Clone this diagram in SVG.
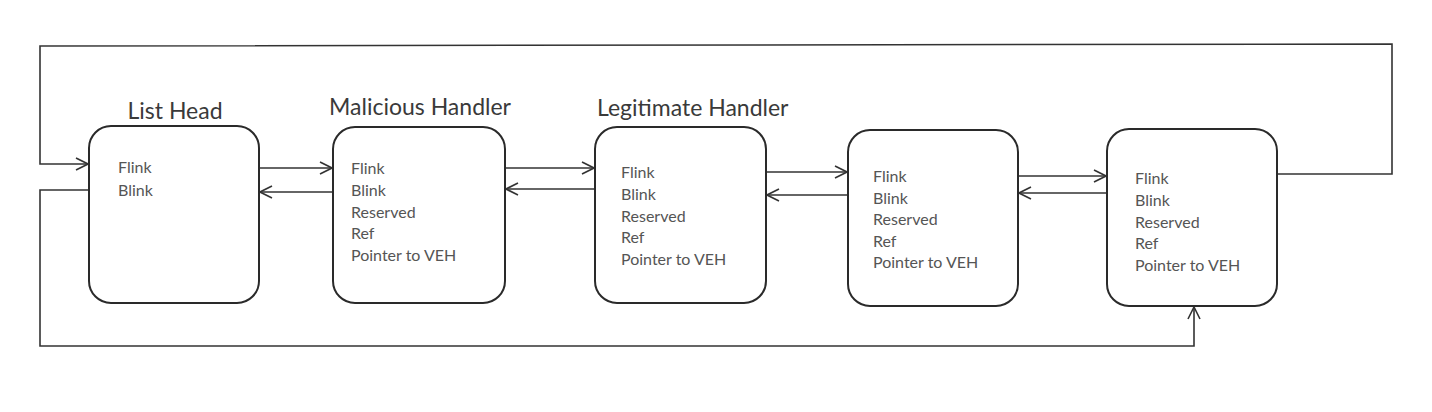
<svg xmlns="http://www.w3.org/2000/svg" width="1432" height="412" viewBox="0 0 1432 412">
<defs>
<marker id="arr" viewBox="0 0 14 14" refX="13" refY="7" markerWidth="14" markerHeight="14" markerUnits="userSpaceOnUse" orient="auto">
<path d="M1,1 L13,7 L1,13" fill="none" stroke="#333" stroke-width="1.6"/>
</marker>
<style>
.box{fill:#fff;stroke:#2a2a2a;stroke-width:2}
.title{font-family:Lato,"Noto Sans",sans-serif;font-size:23px;fill:#3a3a3a}
.field{font-family:Lato,"Noto Sans",sans-serif;font-size:16px;fill:#555}
.conn{fill:none;stroke:#333;stroke-width:1.6}
</style>
</defs>
<rect width="1432" height="412" fill="#fff"/>
<g id="connectors">
<polyline class="conn" points="1277,174 1392,174 1392,44 40,46 40,164 88,164" marker-end="url(#arr)"/>
<polyline class="conn" points="89,190 40,190 40,346 1194,346 1194,307" marker-end="url(#arr)"/>
<line class="conn" x1="259" y1="168" x2="332" y2="168" marker-end="url(#arr)"/>
<line class="conn" x1="333" y1="192" x2="260" y2="192" marker-end="url(#arr)"/>
<line class="conn" x1="505" y1="168" x2="594" y2="168" marker-end="url(#arr)"/>
<line class="conn" x1="595" y1="189" x2="506" y2="189" marker-end="url(#arr)"/>
<line class="conn" x1="766" y1="172" x2="847" y2="172" marker-end="url(#arr)"/>
<line class="conn" x1="848" y1="195" x2="767" y2="195" marker-end="url(#arr)"/>
<line class="conn" x1="1018" y1="176" x2="1106" y2="176" marker-end="url(#arr)"/>
<line class="conn" x1="1107" y1="193" x2="1019" y2="193" marker-end="url(#arr)"/>
</g>
<g id="list-head">
<text class="title" x="175" y="119" text-anchor="middle">List Head</text>
<rect class="box" x="89" y="126" width="170" height="177" rx="22"/>
<text class="field" x="118" y="173">Flink</text>
<text class="field" x="118" y="196">Blink</text>
</g>
<g id="malicious-handler">
<text class="title" x="420" y="115" text-anchor="middle">Malicious Handler</text>
<rect class="box" x="333" y="127" width="172" height="176" rx="22"/>
<text class="field" x="351" y="174">Flink</text>
<text class="field" x="351" y="196">Blink</text>
<text class="field" x="351" y="218">Reserved</text>
<text class="field" x="351" y="239">Ref</text>
<text class="field" x="351" y="261">Pointer to VEH</text>
</g>
<g id="legitimate-handler">
<text class="title" x="597" y="116">Legitimate Handler</text>
<rect class="box" x="595" y="127" width="171" height="176" rx="22"/>
<text class="field" x="621" y="178">Flink</text>
<text class="field" x="621" y="200">Blink</text>
<text class="field" x="621" y="222">Reserved</text>
<text class="field" x="621" y="243">Ref</text>
<text class="field" x="621" y="265">Pointer to VEH</text>
</g>
<g id="handler-3">
<rect class="box" x="848" y="130" width="170" height="176" rx="22"/>
<text class="field" x="873" y="182">Flink</text>
<text class="field" x="873" y="204">Blink</text>
<text class="field" x="873" y="225">Reserved</text>
<text class="field" x="873" y="247">Ref</text>
<text class="field" x="873" y="268">Pointer to VEH</text>
</g>
<g id="handler-4">
<rect class="box" x="1107" y="129" width="170" height="177" rx="22"/>
<text class="field" x="1135" y="184">Flink</text>
<text class="field" x="1135" y="206">Blink</text>
<text class="field" x="1135" y="228">Reserved</text>
<text class="field" x="1135" y="249">Ref</text>
<text class="field" x="1135" y="271">Pointer to VEH</text>
</g>
</svg>
